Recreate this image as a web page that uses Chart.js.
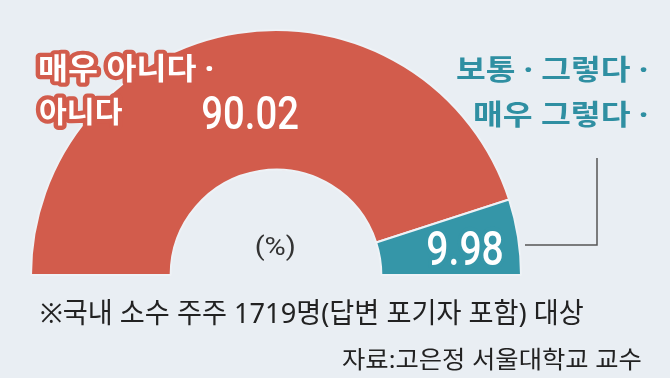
<!DOCTYPE html>
<html>
<head>
<meta charset="utf-8">
<script src="https://cdn.jsdelivr.net/npm/chart.js@4.4.1/dist/chart.umd.min.js"></script>
<style>
  html, body { margin: 0; padding: 0; background: #e9eef3; }
  #wrap { position: relative; width: 670px; height: 378px; }
</style>
</head>
<body>
<div id="wrap"><canvas id="c" width="670" height="378"></canvas></div>
<script>
const categories = ["매우 아니다 · 아니다", "보통 · 그렇다 · 매우 그렇다"];
const values = [90.02, 9.98];
const colors = ["#d25c4c", "#3596a8"];
const labelLines = [["매우 아니다 ·", "아니다"], ["보통 · 그렇다 ·", "매우 그렇다 ·"]];
const unitLabel = "(%)";
const footNote = "※국내 소수 주주 1719명(답변 포기자 포함) 대상";
const sourceNote = "자료:고은정 서울대학교 교수";

// Latin font first so the middle dot and spaces stay narrow
const KR = '"Noto Sans", "Noto Sans CJK KR", sans-serif';
const NUM = 'Roboto, "Liberation Sans", sans-serif';

// draw text so that its ink fits a given box (condensed newspaper fonts)
function boxText(ctx, txt, l, t, r, b, font, fill, stroke, lw) {
  ctx.save();
  ctx.font = font;
  ctx.textBaseline = "alphabetic";
  ctx.textAlign = "left";
  const m = ctx.measureText(txt);
  const iw = m.actualBoundingBoxLeft + m.actualBoundingBoxRight;
  const ih = m.actualBoundingBoxAscent + m.actualBoundingBoxDescent;
  const sx = (r - l) / iw, sy = (b - t) / ih;
  ctx.translate(l, t);
  ctx.scale(sx, sy);
  const x0 = m.actualBoundingBoxLeft, y0 = m.actualBoundingBoxAscent;
  if (stroke) {
    ctx.lineJoin = "round";
    ctx.lineWidth = lw / sx;
    ctx.strokeStyle = stroke;
    ctx.strokeText(txt, x0, y0);
  }
  ctx.fillStyle = fill;
  ctx.fillText(txt, x0, y0);
  ctx.restore();
}

const textPlugin = {
  id: "texts",
  afterDraw(chart) {
    const ctx = chart.ctx;
    // leader line to the small slice
    ctx.save();
    ctx.strokeStyle = "#555";
    ctx.lineWidth = 1.5;
    ctx.beginPath();
    ctx.moveTo(525, 245);
    ctx.lineTo(597, 245);
    ctx.lineTo(597, 158);
    ctx.stroke();
    ctx.restore();

    // category labels
    boxText(ctx, labelLines[0][0], 40, 53, 213, 83, "bold 32px " + KR, "#fff", colors[0], 9);
    boxText(ctx, labelLines[0][1], 40, 98, 122, 127, "bold 32px " + KR, "#fff", colors[0], 9);
    boxText(ctx, labelLines[1][0], 457, 55, 647, 83, "bold 32px " + KR, "#2f8fa2");
    boxText(ctx, labelLines[1][1], 475, 100, 647, 128, "bold 32px " + KR, "#2f8fa2");

    // values
    boxText(ctx, values[0].toFixed(2), 203, 96, 298, 129, "500 46px " + NUM, "#fff");
    boxText(ctx, values[1].toFixed(2), 428, 230, 502, 265, "500 46px " + NUM, "#fff", colors[1], 7);

    boxText(ctx, unitLabel, 256, 233, 295, 262, "22px " + NUM, "#333");
    boxText(ctx, footNote, 41, 299, 583, 327, "28px " + KR, "#222");
    boxText(ctx, sourceNote, 342, 347, 641, 371, "26px " + KR, "#222");
  }
};

new Chart(document.getElementById("c"), {
  type: "doughnut",
  data: {
    labels: categories,
    datasets: [{
      data: values,
      backgroundColor: colors,
      borderColor: "#eef2f6",
      borderWidth: 2
    }]
  },
  options: {
    responsive: false,
    animation: false,
    rotation: -90,
    circumference: 180,
    cutout: "43%",
    layout: { padding: { left: 30, right: 148, top: 29, bottom: 102 } },
    plugins: {
      legend: { display: false },
      tooltip: { enabled: false }
    }
  },
  plugins: [textPlugin]
});
</script>
</body>
</html>
